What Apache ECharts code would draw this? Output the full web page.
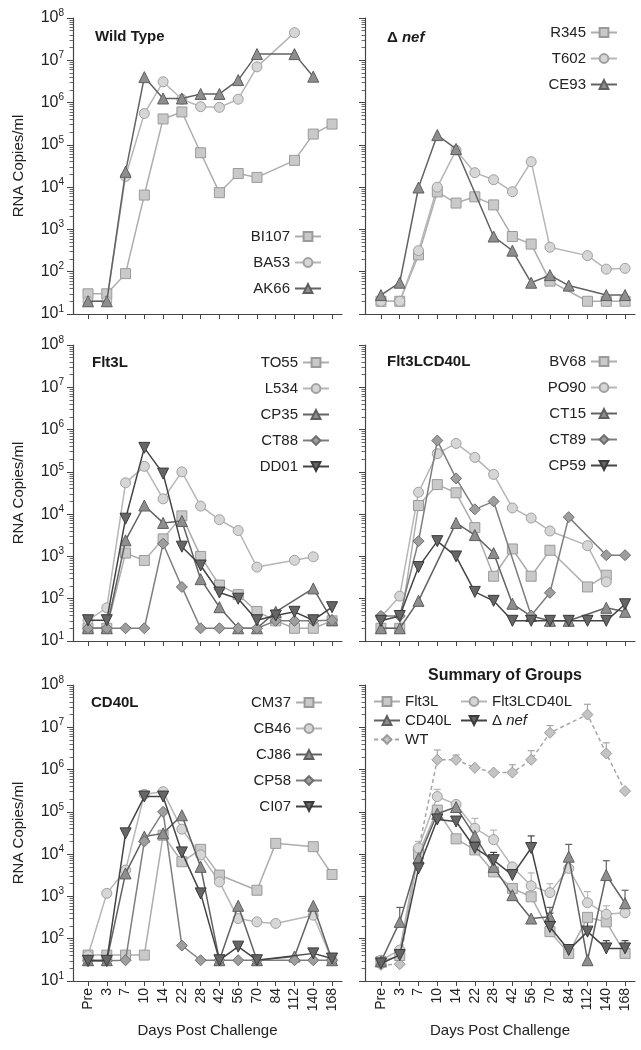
<!DOCTYPE html>
<html><head><meta charset="utf-8">
<script src="https://cdn.jsdelivr.net/npm/echarts@6/dist/echarts.min.js"></script>
<style>html,body{margin:0;padding:0;background:#fff}#c{width:641px;height:1050px}</style>
</head><body><div id="c"></div>
<script>
// ---- tick labels / categories ----
const days = ['Pre','3','7','10','14','22','28','42','56','70','84','112','140','168'];
const decades = [10,100,1000,1e4,1e5,1e6,1e7,1e8];
const minorMult = [2,3,4,5,6,7,8,9];

// ---- Wild Type ----
const BI107 = [30,30,90,6500,4.1e5,6e5,6.5e4,7400,2.1e4,1.7e4,null,4.3e4,1.8e5,3.1e5];
const BA53  = [20,20,1.8e4,5.5e5,3.1e6,1.2e6,8e5,7.7e5,1.2e6,7e6,null,4.5e7,null,null];
const AK66  = [20,20,2.3e4,4e6,1.25e6,1.25e6,1.6e6,1.6e6,3.4e6,1.4e7,null,1.4e7,4.1e6,null];
// ---- Delta nef ----
const R345 = [20,20,250,7700,4200,5900,3800,680,450,60,null,20,20,20];
const T602 = [20,20,315,1e4,7.5e4,2.2e4,1.5e4,7800,4e4,380,null,240,115,120];
const CE93 = [28,55,9800,1.7e5,8e4,null,680,315,55,83,47,null,28,28];
// ---- Flt3L ----
const TO55 = [20,20,1200,800,2600,9100,1000,210,125,50,30,20,20,30];
const L534 = [31,61,5.5e4,1.35e5,2.3e4,1e5,1.55e4,7400,4100,560,null,810,980,null];
const CP35 = [20,20,2400,1.6e4,6200,6900,290,63,20,20,49,null,175,31];
const CT88 = [20,20,20,20,2000,190,20,20,20,20,30,30,30,31];
const DD01 = [31,31,7800,3.7e5,9.1e4,1700,610,140,100,31,40,49,31,63];
// ---- Flt3LCD40L ----
const BV68 = [20,20,1.6e4,5e4,3.2e4,4800,340,1500,340,1400,null,190,360,null];
const PO90 = [37,115,3.3e4,2.7e5,4.7e5,2.2e5,8.7e4,1.4e4,8100,4000,null,1800,250,null];
const CT15 = [20,20,89,null,6200,3200,1200,76,39,30,30,null,61,49];
const CT89 = [39,39,2300,5.5e5,7e4,1.3e4,2e4,null,40,138,8500,null,1070,1070];
const CP59 = [30,39,560,2300,1000,145,89,30,30,30,30,30,30,74];
// ---- CD40L ----
const CM37 = [41,41,41,41,2.8e4,6600,1.3e4,3200,null,1400,1.8e4,null,1.5e4,3300];
const CB46 = [40,1180,4200,2.6e5,3e5,3.9e4,9600,2200,300,250,230,null,360,31];
const CJ86 = [31,31,3500,2.6e4,3.1e4,8.3e4,5000,31,600,31,null,38,600,31];
const CP58 = [30,30,31,2e4,1e5,69,31,31,31,31,null,31,31,31];
const CI07 = [30,30,3.1e4,2.3e5,2.3e5,1.1e4,1180,31,65,31,null,null,45,34];
// ---- Summary of groups (means and upper error bars) ----
const gFlt3L      = [29,40,1e4,1.1e5,2.3e4,1.26e4,3800,1550,980,147,45,320,250,45];
const gFlt3LCD40L = [31,54,1.4e4,2.3e5,1.5e5,4.1e4,2.2e4,5000,1780,1230,4600,710,380,410];
const gCD40L      = [29,250,8000,9e4,1.3e5,2.7e4,5000,1070,300,330,8700,31,3200,690];
const gNef        = [26,41,4600,6.6e4,5.9e4,1.4e4,7200,3200,1.4e4,190,54,147,59,59];
const gWT         = [24,25,1.3e4,1.7e6,1.7e6,1.1e6,8.5e5,8.5e5,1.7e6,7.4e6,null,2e7,2.4e6,3.1e5];
const hiWT         = [null,null,null,2.9e6,2.2e6,null,null,1.3e6,2.8e6,1.1e7,null,3.5e7,4.3e6,null];
const hiFlt3LCD40L = [null,null,2e4,3.4e5,null,7e4,3.7e4,null,3.6e3,2e3,null,1.3e3,600,null];
const hiCD40L      = [null,550,null,null,1.7e5,null,null,null,null,550,1.7e4,null,7000,1400];
const hiNef        = [null,null,null,null,null,null,1.1e4,5000,2.7e4,400,null,320,90,90];
const hiFlt3L      = [null,null,null,1.4e5,null,null,null,null,null,null,null,null,null,null];

const FONT = "'Liberation Sans', Arial, sans-serif";
const TXT = '#222';
const AX = '#444';
const idx = days.map((d,i)=>i);
const minors = [];
decades.slice(0,-1).forEach(d => minorMult.forEach(m => minors.push(d*m)));

const STY = {
  sq:{symbol:'rect', size:10, fill:'#c9c9c9', border:'#9a9a9a', line:'#adadad'},
  ci:{symbol:'circle', size:10, fill:'#d6d6d6', border:'#a0a0a0', line:'#b6b6b6'},
  tr:{symbol:'triangle', size:11, fill:'#8e8e8e', border:'#5e5e5e', line:'#626262'},
  di:{symbol:'diamond', size:11, fill:'#9e9e9e', border:'#6e6e6e', line:'#7e7e7e'},
  dt:{symbol:'triangle', rotate:180, size:11, fill:'#666', border:'#3a3a3a', line:'#444'},
  wt:{symbol:'diamond', size:11, fill:'#c4c4c4', border:'#9a9a9a', line:'#a6a6a6', dash:[4,3]}
};

const H = 296;
const panels = [
  {left:73,  top:18,  width:269, min:-0.8,  yl:true,  xl:false},
  {left:365, top:18,  width:270, min:-0.85, yl:false, xl:false},
  {left:73,  top:345, width:269, min:-0.8,  yl:true,  xl:false},
  {left:365, top:345, width:270, min:-0.85, yl:false, xl:false},
  {left:73,  top:685, width:269, min:-0.8,  yl:true,  xl:true},
  {left:365, top:685, width:270, min:-0.85, yl:false, xl:true}
];

const grid=[], xAxis=[], yAxis=[];
panels.forEach((p,g)=>{
  grid.push({left:p.left, top:p.top, width:p.width, height:H});
  xAxis.push({type:'value', gridIndex:g, min:p.min, max:13.53,
    axisLine:{show:true,onZero:false,lineStyle:{color:AX,width:1.2}},
    axisTick:{show:true,customValues:idx,length:5,lineStyle:{color:AX,width:1}},
    axisLabel:{show:p.xl,customValues:idx,rotate:90,margin:7,formatter:v=>days[Math.round(v)],
      fontSize:14,color:TXT,fontFamily:FONT},
    splitLine:{show:false},
    name:p.xl?'Days Post Challenge':'', nameLocation:'middle', nameGap:42,
    nameTextStyle:{fontSize:15,color:TXT,fontFamily:FONT}
  });
  yAxis.push({type:'log', logBase:10, gridIndex:g, min:10, max:1e8,
    axisLine:{show:true,onZero:false,lineStyle:{color:AX,width:1.2}},
    axisTick:{show:true,customValues:decades,length:6,lineStyle:{color:AX,width:1}},
    axisLabel:{show:p.yl,customValues:decades,margin:9,
      formatter:v=>'{b|10}{s|'+Math.round(Math.log10(v))+'}',
      rich:{b:{fontSize:16,lineHeight:20,color:TXT,fontFamily:FONT},
            s:{fontSize:10,lineHeight:10,verticalAlign:'top',color:TXT,fontFamily:FONT}}},
    splitLine:{show:false}, minorTick:{show:false},
    name:p.yl?'RNA Copies/ml':'', nameLocation:'middle', nameGap:47, nameRotate:90,
    nameTextStyle:{fontSize:15,color:TXT,fontFamily:FONT}
  });
  yAxis.push({type:'log', logBase:10, gridIndex:g, min:10, max:1e8, position:'left',
    axisLine:{show:false,onZero:false},
    axisTick:{show:true,customValues:minors,length:3.5,lineStyle:{color:AX,width:0.8}},
    axisLabel:{show:false}, splitLine:{show:false}
  });
});

const series=[];
function addLine(g,name,vals,kind,z){
  const s=STY[kind];
  series.push({name, type:'line', xAxisIndex:g, yAxisIndex:2*g,
    data: vals.map((v,i)=>v==null?null:[i,v]).filter(Boolean),
    symbol:s.symbol, symbolSize:s.size, symbolRotate:s.rotate||0,
    itemStyle:{color:s.fill,borderColor:s.border,borderWidth:1,opacity:1},
    lineStyle:{color:s.line,width:1.5,type:s.dash||'solid'},
    z:z||2, animation:false, silent:true});
}
function addErr(g,mean,hi,kind){
  const s=STY[kind];
  const data=[];
  hi.forEach((h,i)=>{ if(h!=null && mean[i]!=null) data.push([i,mean[i],h]); });
  series.push({type:'custom', xAxisIndex:g, yAxisIndex:2*g, data, z:1, animation:false, silent:true,
    renderItem:(params,api)=>{
      const a=api.coord([api.value(0),api.value(1)]);
      const b=api.coord([api.value(0),api.value(2)]);
      const st={stroke:s.line,lineWidth:1.2};
      return {type:'group',children:[
        {type:'line',shape:{x1:a[0],y1:a[1],x2:b[0],y2:b[1]},style:st},
        {type:'line',shape:{x1:b[0]-3.5,y1:b[1],x2:b[0]+3.5,y2:b[1]},style:st}]};
    }});
}
addLine(0,'BI107',BI107,'sq'); addLine(0,'BA53',BA53,'ci'); addLine(0,'AK66',AK66,'tr',3);
addLine(1,'R345',R345,'sq'); addLine(1,'T602',T602,'ci'); addLine(1,'CE93',CE93,'tr',3);
addLine(2,'TO55',TO55,'sq'); addLine(2,'L534',L534,'ci'); addLine(2,'CP35',CP35,'tr',3);
addLine(2,'CT88',CT88,'di',3); addLine(2,'DD01',DD01,'dt',4);
addLine(3,'BV68',BV68,'sq'); addLine(3,'PO90',PO90,'ci'); addLine(3,'CT15',CT15,'tr',3);
addLine(3,'CT89',CT89,'di',3); addLine(3,'CP59',CP59,'dt',4);
addLine(4,'CM37',CM37,'sq'); addLine(4,'CB46',CB46,'ci'); addLine(4,'CJ86',CJ86,'tr',3);
addLine(4,'CP58',CP58,'di',3); addLine(4,'CI07',CI07,'dt',4);
addErr(5,gWT,hiWT,'wt'); addErr(5,gFlt3LCD40L,hiFlt3LCD40L,'ci'); addErr(5,gCD40L,hiCD40L,'tr');
addErr(5,gNef,hiNef,'dt'); addErr(5,gFlt3L,hiFlt3L,'sq');
addLine(5,'WT',gWT,'wt'); addLine(5,'Flt3L',gFlt3L,'sq'); addLine(5,'Flt3LCD40L',gFlt3LCD40L,'ci');
addLine(5,'CD40L',gCD40L,'tr',3); addLine(5,'Δ nef',gNef,'dt',4);

const legTxt={fontSize:15,color:TXT,fontFamily:FONT,rich:{i:{fontSize:15,fontStyle:'italic',color:TXT,fontFamily:FONT}}};
function leg(data,pos,align,gap){
  return Object.assign({data, orient:'vertical', align:align||'right', itemWidth:26, itemHeight:11,
    itemGap:gap==null?11:gap, padding:0, selectedMode:false, textStyle:legTxt,
    formatter:n=>n==='Δ nef'?'Δ {i|nef}':n}, pos);
}
const legend=[
  leg(['BI107','BA53','AK66'],{right:319,top:229}),
  leg(['R345','T602','CE93'],{right:23,top:25}),
  leg(['TO55','L534','CP35','CT88','DD01'],{right:311,top:355}),
  leg(['BV68','PO90','CT15','CT89','CP59'],{right:23,top:354}),
  leg(['CM37','CB46','CJ86','CP58','CI07'],{right:318,top:695}),
  leg(['Flt3L','CD40L','WT'],{left:373,top:694},'left',4),
  leg(['Flt3LCD40L','Δ nef'],{left:460,top:694},'left',4)
];

const tStyle={fontSize:15,fontWeight:'bold',color:'#1a1a1a',fontFamily:FONT};
const title=[
  {text:'Wild Type',left:95,top:29,padding:0,textStyle:tStyle},
  {text:'Δ {i|nef}',left:387,top:30,padding:0,textStyle:Object.assign({rich:{i:{fontSize:15,fontWeight:'bold',fontStyle:'italic',color:'#1a1a1a',fontFamily:FONT}}},tStyle)},
  {text:'Flt3L',left:92,top:355,padding:0,textStyle:tStyle},
  {text:'Flt3LCD40L',left:387,top:354,padding:0,textStyle:tStyle},
  {text:'CD40L',left:91,top:695,padding:0,textStyle:tStyle},
  {text:'Summary of Groups',left:428,top:668,padding:0,textStyle:Object.assign({},tStyle,{fontSize:16})}
];

const chart=echarts.init(document.getElementById('c'),null,{renderer:'canvas'});
chart.setOption({backgroundColor:'#fff',animation:false,grid,xAxis,yAxis,series,legend,title});
</script></body></html>
